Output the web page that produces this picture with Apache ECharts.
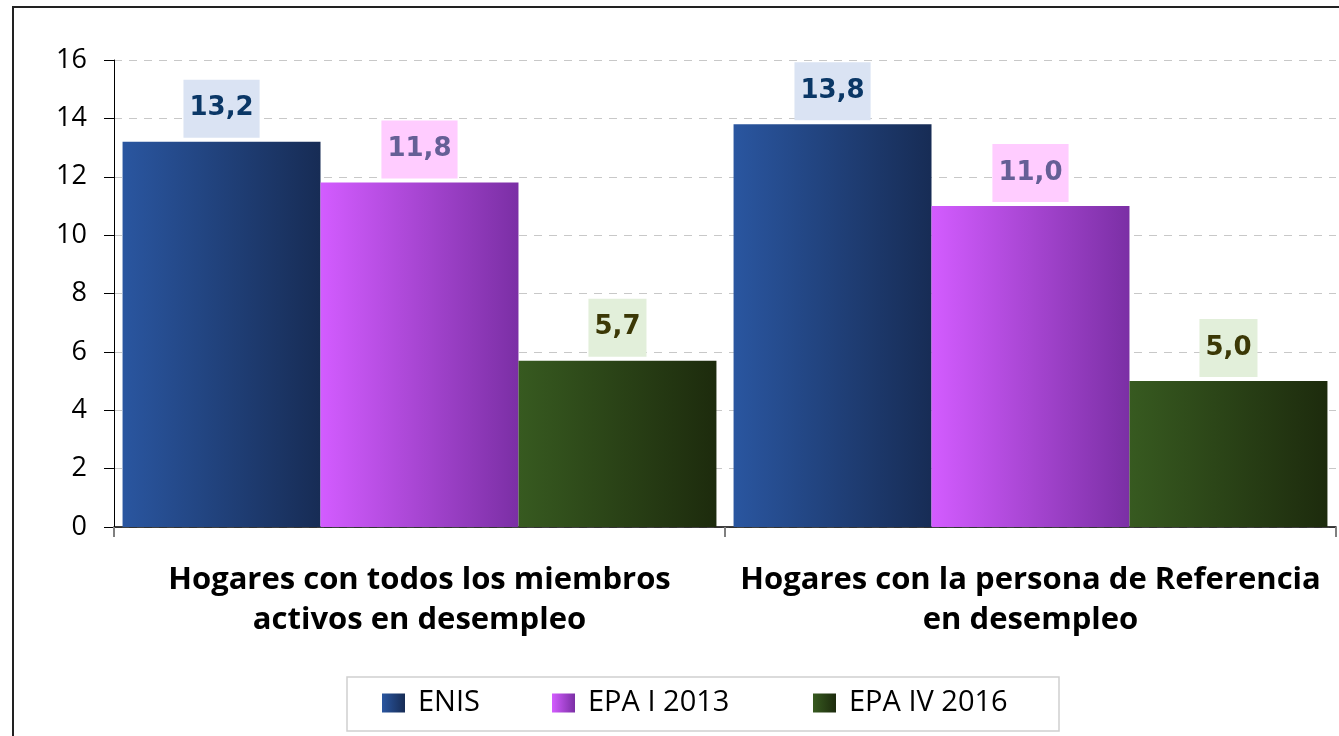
<!DOCTYPE html>
<html>
<head>
<meta charset="utf-8">
<script src="https://cdn.jsdelivr.net/npm/echarts@6/dist/echarts.min.js"></script>
<style>
  html, body { margin: 0; padding: 0; background: #fff; }
  #chart { width: 1339px; height: 736px; }
</style>
</head>
<body>
<div id="chart"></div>
<script>
// datos
const categorias = [
  'Hogares con todos los miembros\nactivos en desempleo',
  'Hogares con la persona de Referencia\nen desempleo'
];
const nombres = ['ENIS', 'EPA I 2013', 'EPA IV 2016'];
const enis = [13.2, 13.8];
const epa2013 = [11.8, 11.0];
const epa2016 = [5.7, 5.0];

function grad(c1, c2) {
  return new echarts.graphic.LinearGradient(0, 0, 1, 0, [
    { offset: 0, color: c1 },
    { offset: 1, color: c2 }
  ]);
}

const colores = [
  grad('#2a56a0', '#172c55'),
  grad('#d35cff', '#7b2fa5'),
  grad('#375a20', '#1d2b0d')
];
const etiquetas = [
  { color: '#0a3766', bg: '#dae3f3' },
  { color: '#655f96', bg: '#ffccff' },
  { color: '#3b3806', bg: '#e2efda' }
];

function serie(i, datos) {
  return {
    name: nombres[i],
    type: 'bar',
    data: datos,
    barGap: '0%',
    barCategoryGap: '2.8%',
    itemStyle: { color: colores[i] },
    label: {
      show: true,
      position: 'top',
      distance: 4,
      formatter: p => p.value.toFixed(1).replace('.', ','),
      fontFamily: 'DejaVu Sans',
      fontWeight: 'bold',
      fontSize: 26,
      lineHeight: 30,
      color: etiquetas[i].color,
      backgroundColor: etiquetas[i].bg,
      padding: [14, 6, 14, 6]
    }
  };
}

function leyenda(i, x) {
  return {
    data: [nombres[i]],
    left: x,
    top: 687,
    padding: 0,
    itemWidth: 23,
    itemHeight: 19,
    icon: 'rect',
    selectedMode: false,
    textStyle: {
      fontFamily: 'Open Sans',
      fontSize: 29,
      lineHeight: 32,
      color: '#000',
      padding: [0, 0, 0, 8]
    }
  };
}

const chart = echarts.init(document.getElementById('chart'));
chart.setOption({
  animation: false,
  backgroundColor: '#fff',
  grid: { left: 114, right: 3, top: 60, bottom: 209 },
  graphic: [
    {
      type: 'rect',
      shape: { x: 13, y: 7, width: 1400, height: 800 },
      style: { fill: 'none', stroke: '#222', lineWidth: 2 },
      silent: true
    },
    {
      type: 'rect',
      shape: { x: 347, y: 677, width: 712, height: 54 },
      style: { fill: 'none', stroke: '#d0d0d0', lineWidth: 1.5 },
      silent: true
    }
  ],
  legend: [leyenda(0, 382), leyenda(1, 552), leyenda(2, 813)],
  xAxis: {
    type: 'category',
    data: categorias,
    axisLine: { lineStyle: { color: '#000', width: 1.5 } },
    axisTick: { show: true, length: 10, lineStyle: { color: '#808080', width: 2 } },
    axisLabel: {
      interval: 0,
      margin: 33,
      fontFamily: 'Open Sans',
      fontWeight: 'bold',
      fontSize: 31,
      lineHeight: 40,
      color: '#000'
    }
  },
  yAxis: {
    type: 'value',
    min: 0,
    max: 16,
    interval: 2,
    axisLine: { show: true, lineStyle: { color: '#000', width: 1 } },
    axisTick: { show: true, length: 10, lineStyle: { color: '#000' } },
    axisLabel: {
      margin: 27,
      fontFamily: 'Open Sans',
      fontSize: 27,
      color: '#000'
    },
    splitLine: { lineStyle: { color: '#c8c8c8', type: [8, 7], width: 1 } }
  },
  series: [serie(0, enis), serie(1, epa2013), serie(2, epa2016)]
});
</script>
</body>
</html>
